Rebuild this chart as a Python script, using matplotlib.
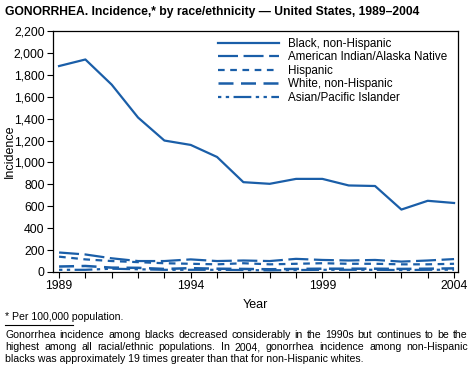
import matplotlib
matplotlib.use('Agg')
import matplotlib.pyplot as plt
from matplotlib.ticker import FuncFormatter

plt.rcParams['font.family'] = ['Liberation Sans', 'DejaVu Sans']

years = list(range(1989, 2005))
black = [1880, 1940, 1710, 1410, 1200, 1160, 1050, 820, 805, 850, 850, 790, 785, 570, 650, 630]
aian = [178, 160, 125, 100, 100, 115, 100, 105, 100, 120, 110, 105, 110, 95, 105, 118]
hispanic = [140, 115, 100, 90, 80, 75, 70, 80, 70, 75, 80, 75, 75, 70, 70, 75]
white = [50, 55, 40, 38, 28, 35, 30, 28, 25, 28, 30, 30, 30, 28, 30, 33]
asian = [20, 20, 30, 25, 20, 20, 20, 18, 15, 18, 20, 20, 20, 18, 20, 21]
labels = ['Black, non-Hispanic', 'American Indian/Alaska Native', 'Hispanic',
          'White, non-Hispanic', 'Asian/Pacific Islander']

blue = '#1a5ea8'
W, H = 473, 371

fig = plt.figure(figsize=(W / 100, H / 100), dpi=100)
ax = fig.add_axes([53 / W, 1 - 272 / H, (458 - 53) / W, (272 - 31) / H])

ax.plot(years, black, color=blue, lw=1.6, label=labels[0])
ax.plot(years, aian, color=blue, lw=1.6, dashes=(9, 2.5), label=labels[1])
ax.plot(years, hispanic, color=blue, lw=1.6, dashes=(3, 2.5), label=labels[2])
ax.plot(years, white, color=blue, lw=1.8, dashes=(6, 3), label=labels[3])
ax.plot(years, asian, color=blue, lw=1.6, dashes=(1.5, 2, 1.5, 2, 8, 2), label=labels[4])

ax.set_xlim(1988.77, 2004.15)
ax.set_ylim(0, 2200)
ax.set_yticks(range(0, 2201, 200))
ax.yaxis.set_major_formatter(FuncFormatter(lambda v, p: f'{int(v):,}'))
ax.set_xticks(years, minor=True)
ax.set_xticks([1989, 1994, 1999, 2004])
ax.tick_params(axis='both', direction='out', labelsize=8.8, length=4, width=0.8, pad=2)
ax.tick_params(axis='x', which='minor', length=4, width=0.8)
for s in ax.spines.values():
    s.set_linewidth(0.9)

ax.set_xlabel('Year', fontsize=9, labelpad=5)
ax.set_ylabel('Incidence', fontsize=9)
ax.yaxis.set_label_coords(-0.092, 0.5)

leg = ax.legend(loc='upper right', bbox_to_anchor=(0.985, 0.99), frameon=False, fontsize=8.4,
                handlelength=5.2, handletextpad=0.8, labelspacing=0.12, borderaxespad=0.0)

fig.text(5 / W, 1 - 12 / H, 'GONORRHEA. Incidence,* by race/ethnicity \u2014 United States, 1989\u20132004',
         fontsize=8.7, fontweight='bold', va='center')
fig.text(5 / W, 1 - 317 / H, '* Per 100,000 population.', fontsize=7.6, va='center')
fig.add_artist(plt.Line2D([5 / W, 73 / W], [1 - 325 / H, 1 - 325 / H], color='black', lw=0.8))

para = ['Gonorrhea incidence among blacks decreased considerably in the 1990s but continues to be the',
        'highest among all racial/ethnic populations. In 2004, gonorrhea incidence among non-Hispanic',
        'blacks was approximately 19 times greater than that for non-Hispanic whites.']
renderer = fig.canvas.get_renderer()
left, right = 5, 468
for i, line in enumerate(para):
    y = 1 - (335 + 12 * i) / H
    words = line.split(' ')
    if i == len(para) - 1:
        fig.text(left / W, y, line, fontsize=7.6, va='center')
        continue
    arts = [fig.text(0, y, w, fontsize=7.6, va='center') for w in words]
    widths = [a.get_window_extent(renderer).width for a in arts]
    gap = (right - left - sum(widths)) / (len(words) - 1)
    x = left
    for a, w in zip(arts, widths):
        a.set_x(x / W)
        x += w + gap

fig.savefig('out.png', dpi=100)
